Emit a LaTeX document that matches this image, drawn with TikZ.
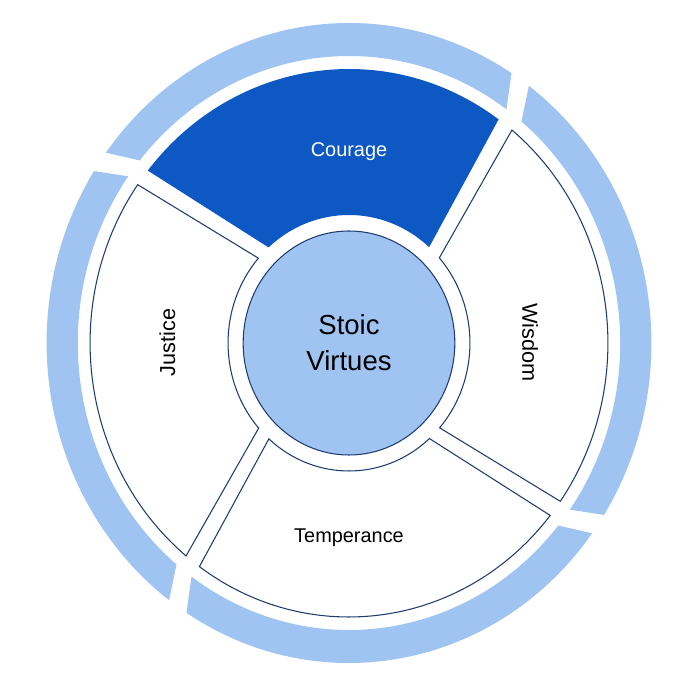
\documentclass[tikz,border=0pt]{standalone}
\usepackage{fontspec}
\setmainfont{Liberation Sans}
\usepackage{tikz}
\definecolor{ringblue}{HTML}{A0C4F2}
\definecolor{darkblue}{HTML}{0E58C3}
\definecolor{navy}{HTML}{1E3C6E}
\tikzset{ringpart/.style={fill=ringblue},
  seg/.style={draw=navy,line width=.9pt,fill=white},
  hub/.style={draw=navy,line width=.9pt,fill=ringblue},
  lbl/.style={font=\fontsize{17}{20}\selectfont,inner sep=0pt}}

\begin{document}
\begin{tikzpicture}[x=.03cm,y=.03cm]
\useasboundingbox (-349,-342) rectangle (351,343);
\begin{scope}[xscale=.945]
\fill[ringpart] (-35.5:287) arc[start angle=-35.5,end angle=50.5,radius=287] -- (53.5:320) arc[start angle=53.5,end angle=-32.5,radius=320] -- cycle;
\fill[ringpart] (54.5:287) arc[start angle=54.5,end angle=140.5,radius=287] -- (143.5:320) arc[start angle=143.5,end angle=57.5,radius=320] -- cycle;
\fill[ringpart] (144.5:287) arc[start angle=144.5,end angle=230.5,radius=287] -- (233.5:320) arc[start angle=233.5,end angle=147.5,radius=320] -- cycle;
\fill[ringpart] (234.5:287) arc[start angle=234.5,end angle=320.5,radius=287] -- (323.5:320) arc[start angle=323.5,end angle=237.5,radius=320] -- cycle;
\draw[seg] (-41.5:128) arc[start angle=-41.5,end angle=41.7,radius=128] -- (51:274) arc[start angle=51,end angle=-35.3,radius=274] -- cycle;
\fill[darkblue] (48.5:128) arc[start angle=48.5,end angle=131.7,radius=128] -- (141:274) arc[start angle=141,end angle=54.7,radius=274] -- cycle;
\draw[seg] (138.5:128) arc[start angle=138.5,end angle=221.7,radius=128] -- (231:274) arc[start angle=231,end angle=144.7,radius=274] -- cycle;
\draw[seg] (228.5:128) arc[start angle=228.5,end angle=311.7,radius=128] -- (321:274) arc[start angle=321,end angle=234.7,radius=274] -- cycle;
\draw[hub] (0,0) circle[radius=112];
\end{scope}
\node[lbl,text=white] (courage) at (0,191.5) {Courage};
\node[lbl,font=\fontsize{18.5}{22}\selectfont,rotate=-90] (wisdom) at (181,0.5) {Wisdom};
\node[lbl,font=\fontsize{18.5}{22}\selectfont,rotate=90] (justice) at (-181.5,0.5) {Justice};
\node[lbl] (temperance) at (0,-195) {Temperance};
\node[lbl,font=\fontsize{23.5}{31.5}\selectfont,align=center] (stoic) at (0,0.3) {Stoic\\Virtues};
\end{tikzpicture}
\end{document}
